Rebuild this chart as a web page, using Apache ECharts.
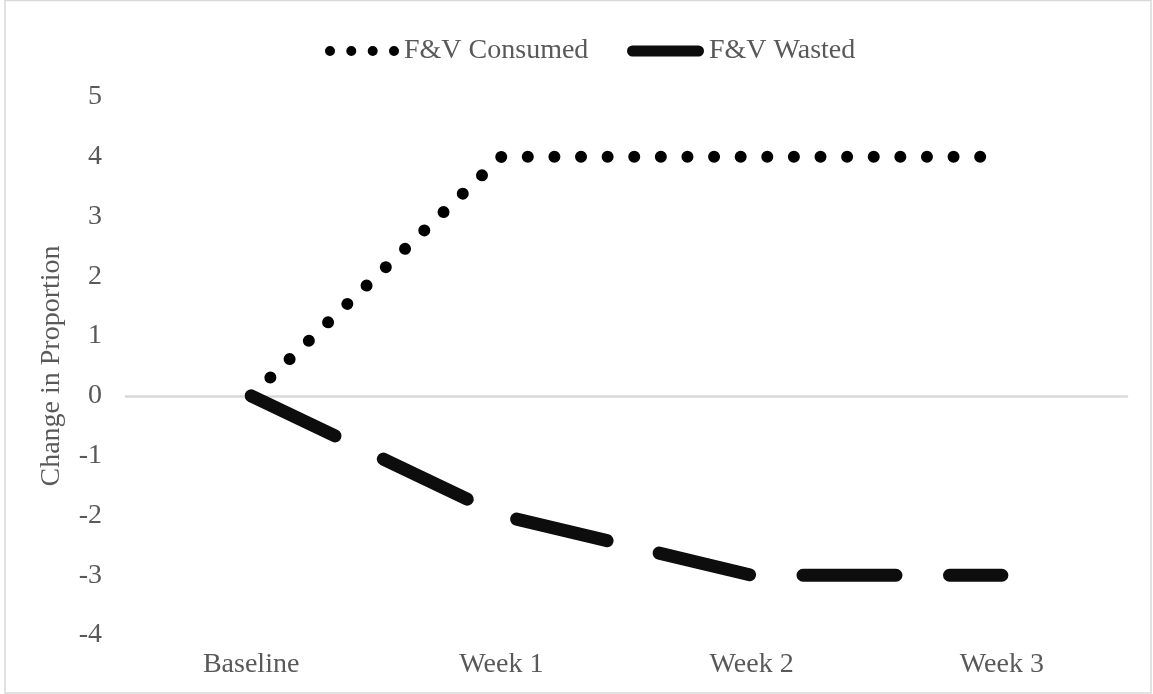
<!DOCTYPE html>
<html>
<head>
<meta charset="utf-8">
<script src="https://cdn.jsdelivr.net/npm/echarts@6/dist/echarts.min.js"></script>
<style>
  html, body { margin: 0; padding: 0; background: #fff; }
  #chart { width: 1153px; height: 694px; }
</style>
</head>
<body>
<div id="chart"></div>
<script>
// Change in proportion of fruit & vegetables consumed vs wasted, by week
const categories = ['Baseline', 'Week 1', 'Week 2', 'Week 3'];
const consumed = [0, 4, 4, 4];
const wasted = [0, -2, -3, -3];
const yMin = -4;
const yMax = 5;
const yStep = 1;
const seriesNames = ['F&V Consumed', 'F&V Wasted'];

const FONT = "'Liberation Serif', 'Times New Roman', serif";
const TEXT = '#595959';

// legend glyphs: a row of four dots, and a rounded bar
const dotsIcon = 'path://M0,0h0.01v0.01h-0.01Z M74,11h-0.01v-0.01h0.01Z ' +
  'M0,5.5A5,5 0 1 1 10,5.5A5,5 0 1 1 0,5.5Z ' +
  'M21.3,5.5A5,5 0 1 1 31.3,5.5A5,5 0 1 1 21.3,5.5Z ' +
  'M42.7,5.5A5,5 0 1 1 52.7,5.5A5,5 0 1 1 42.7,5.5Z ' +
  'M64,5.5A5,5 0 1 1 74,5.5A5,5 0 1 1 64,5.5Z';
const barIcon = 'path://M5.5,0H71.5A5.5,5.5 0 0 1 71.5,11H5.5A5.5,5.5 0 0 1 5.5,0Z';

const chart = echarts.init(document.getElementById('chart'), null, { renderer: 'canvas' });

chart.setOption({
  animation: false,
  backgroundColor: '#fff',
  textStyle: { fontFamily: FONT },
  graphic: [{
    type: 'rect',
    silent: true,
    shape: { x: 5, y: 0.5, width: 1146, height: 692.5 },
    style: { fill: 'none', stroke: '#d9d9d9', lineWidth: 1.5 }
  }],
  legend: [
    {
      data: [{ name: seriesNames[0], icon: dotsIcon }],
      left: 320, top: 32,
      itemWidth: 74, itemHeight: 11,
      itemStyle: { borderWidth: 0 },
      textStyle: { fontFamily: FONT, fontSize: 28, color: TEXT, lineHeight: 28 },
      selectedMode: false
    },
    {
      data: [{ name: seriesNames[1], icon: barIcon }],
      left: 622, top: 32,
      itemWidth: 77, itemHeight: 11,
      itemStyle: { borderWidth: 0 },
      textStyle: { fontFamily: FONT, fontSize: 28, color: TEXT, lineHeight: 28 },
      selectedMode: false
    }
  ],
  grid: { left: 126, right: 26, top: 97, bottom: 59 },
  xAxis: [
    {
      type: 'category',
      data: categories,
      boundaryGap: true,
      axisLine: { show: false, onZero: false },
      axisTick: { show: false },
      axisLabel: { color: TEXT, fontFamily: FONT, fontSize: 28, margin: 16 },
      splitLine: { show: false }
    },
    {
      // horizontal axis line crossing at zero
      type: 'category',
      data: categories,
      boundaryGap: true,
      position: 'bottom',
      axisLine: { show: true, onZero: true, lineStyle: { color: '#d9d9d9', width: 2.5 } },
      axisTick: { show: false },
      axisLabel: { show: false },
      splitLine: { show: false }
    }
  ],
  yAxis: {
    type: 'value',
    min: yMin,
    max: yMax,
    interval: yStep,
    name: 'Change in Proportion',
    nameLocation: 'middle',
    nameGap: 60,
    nameTextStyle: { color: TEXT, fontFamily: FONT, fontSize: 28 },
    axisLine: { show: false },
    axisTick: { show: false },
    splitLine: { show: false },
    axisLabel: { color: TEXT, fontFamily: FONT, fontSize: 28, margin: 24 }
  },
  series: [
    {
      name: seriesNames[0],
      type: 'line',
      data: consumed,
      symbol: 'none',
      itemStyle: { color: '#000' },
      lineStyle: { color: '#000', width: 12, type: [0.01, 26.6], cap: 'round', join: 'round' }
    },
    {
      name: seriesNames[1],
      type: 'line',
      data: wasted,
      symbol: 'none',
      itemStyle: { color: '#0d0d0d' },
      lineStyle: { color: '#0d0d0d', width: 13, type: [93, 53.5], cap: 'round', join: 'round' }
    }
  ]
});
</script>
</body>
</html>
